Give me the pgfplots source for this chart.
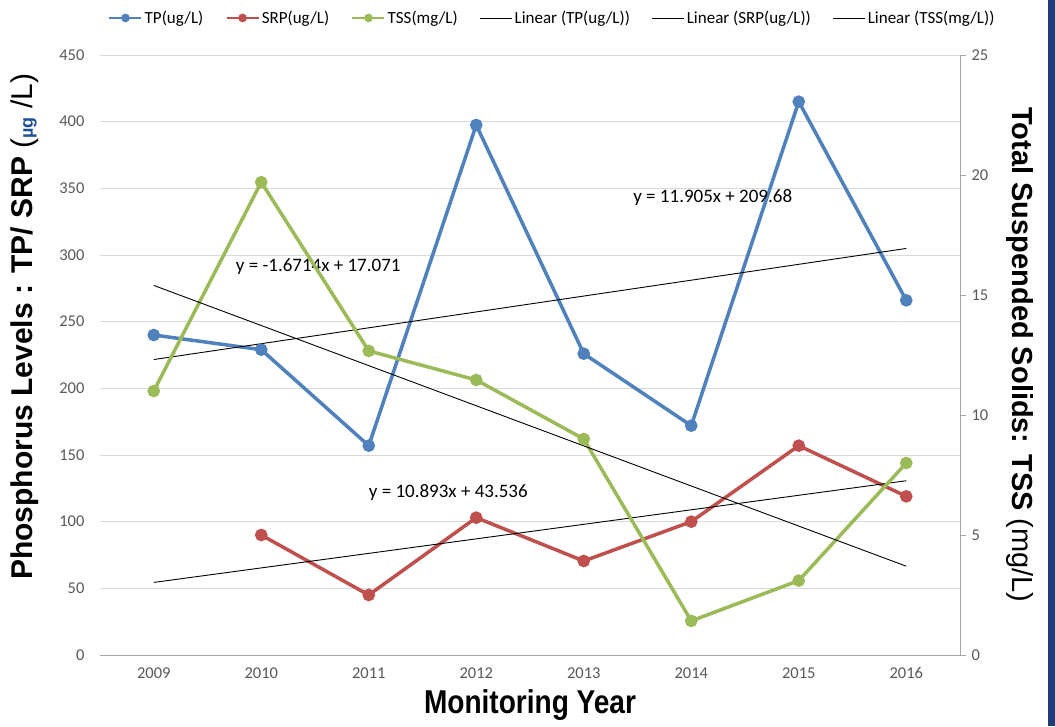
\documentclass[border=0pt]{standalone}
\usepackage{fontspec}
\setmainfont{Carlito}
\newfontfamily\arialb{Liberation Sans}
\newfontfamily\narrowb[FakeStretch=0.85]{Liberation Sans}
\usepackage{pgfplots}
\usepackage{pgfplotstable}
\pgfplotsset{compat=1.18}

\definecolor{tpblue}{HTML}{4F81BD}
\definecolor{srpred}{HTML}{C0504D}
\definecolor{tssgreen}{HTML}{9BBB59}
\definecolor{gridgray}{HTML}{D9D9D9}
\definecolor{ticktext}{HTML}{595959}
\definecolor{axisgray}{HTML}{A6A6A6}
\definecolor{frameblue}{HTML}{1F3C7A}
\definecolor{mublue}{HTML}{1F4E99}

% x: 0 = 2009 ... 7 = 2016
\pgfplotstableread{
x TP TSS
0 240 11.0
1 229 19.7
2 157 12.67
3 397.5 11.46
4 226 9.0
5 172 1.42
6 415 3.1
7 266 8.0
}\tptss
\pgfplotstableread{
x SRP
1 90
2 45
3 103
4 70.5
5 100
6 157
7 119
}\srp

\pgfplotsset{
  base/.style={
    scale only axis, width=860pt, height=600pt,
    xmin=-0.5, xmax=7.5,
    xtick={0,...,7},
    xticklabels={2009,2010,2011,2012,2013,2014,2015,2016},
    /pgf/number format/assume math mode=true,
    ticklabel style={font=\fontsize{16.5}{16.5}\selectfont, text=ticktext},
  },
  series/.style={line width=3.5pt, mark=*, mark size=4.5pt},
  trend/.style={black, line width=0.9pt},
}
\tikzset{eqn/.style={font=\fontsize{19}{19}\selectfont}}

\begin{document}
\begin{tikzpicture}
\path[fill=white,use as bounding box] (-100pt,-71pt) rectangle (955pt,655pt);
\fill[frameblue] (948pt,-71pt) rectangle (955pt,655pt);

\begin{axis}[base,
  ymin=0, ymax=450, ytick={0,50,...,450},
  axis x line*=bottom, axis y line*=left,
  x axis line style={-, axisgray, line width=0.8pt},
  y axis line style={draw=none},
  tick style={draw=none}, major tick length=0pt,
  ymajorgrids, grid style={gridgray, line width=0.8pt},
  yticklabel style={xshift=-12pt},
  xticklabel style={yshift=-9pt},
  xlabel={\narrowb\bfseries Monitoring Year},
  xlabel style={at={(axis description cs:0.5,-0.0833)}, anchor=center, font=\fontsize{33}{33}\selectfont},
  ylabel={\arialb\bfseries Phosphorus Levels : TP/ SRP \mdseries(\textcolor{mublue}{\bfseries\fontsize{18}{18}\selectfont µg} /L)},
  ylabel style={at={(axis description cs:-0.0872,0.547)}, anchor=center, font=\fontsize{30}{30}\selectfont},
]
\addplot[series, tpblue] table[x=x,y=TP] {\tptss};
\addplot[series, srpred] table[x=x,y=SRP] {\srp};
\addplot[trend] coordinates {(0,221.585) (7,304.92)};
\addplot[trend] coordinates {(0,54.429) (7,130.68)};
\node[eqn] at (axis cs:5.2,343) {y = 11.905x + 209.68};
\node[eqn] at (axis cs:1.53,291) {y = -1.6714x + 17.071};
\node[eqn] at (axis cs:2.74,122) {y = 10.893x + 43.536};
\end{axis}

\begin{axis}[base,
  ymin=0, ymax=25, ytick={0,5,...,25},
  axis x line=none, axis y line*=right,
  y axis line style={-, axisgray, line width=0.8pt},
  ytick style={axisgray, line width=0.8pt},
  tick align=outside, major tick length=6pt,
  yticklabel style={xshift=2pt},
  ylabel={\arialb\bfseries Total Suspended Solids: TSS \mdseries(mg/L)},
  ylabel style={at={(axis description cs:1.0698,0.5)}, anchor=center, rotate=180, font=\fontsize{29}{29}\selectfont},
  legend columns=6,
  legend style={at={(axis description cs:0.526,1.0617)}, anchor=center, draw=none, fill=none,
    font=\fontsize{17}{17}\selectfont,
    /tikz/every even column/.append style={column sep=20pt}},
  legend image code/.code={\draw[mark repeat=2,mark phase=2] plot coordinates {(0pt,0pt) (16pt,0pt) (32pt,0pt)};},
]
\addplot[series, tssgreen, forget plot] table[x=x,y=TSS] {\tptss};
\addplot[trend, forget plot] coordinates {(0,15.3996) (7,3.6998)};
\addlegendimage{tpblue, line width=2.5pt, mark=*, mark size=3pt}
\addlegendentry{TP(ug/L)}
\addlegendimage{srpred, line width=2.5pt, mark=*, mark size=3pt}
\addlegendentry{SRP(ug/L)}
\addlegendimage{tssgreen, line width=2.5pt, mark=*, mark size=3pt}
\addlegendentry{TSS(mg/L)}
\addlegendimage{black, line width=0.9pt}
\addlegendentry{Linear (TP(ug/L))}
\addlegendimage{black, line width=0.9pt}
\addlegendentry{Linear (SRP(ug/L))}
\addlegendimage{black, line width=0.9pt}
\addlegendentry{Linear (TSS(mg/L))}
\end{axis}
\end{tikzpicture}
\end{document}
